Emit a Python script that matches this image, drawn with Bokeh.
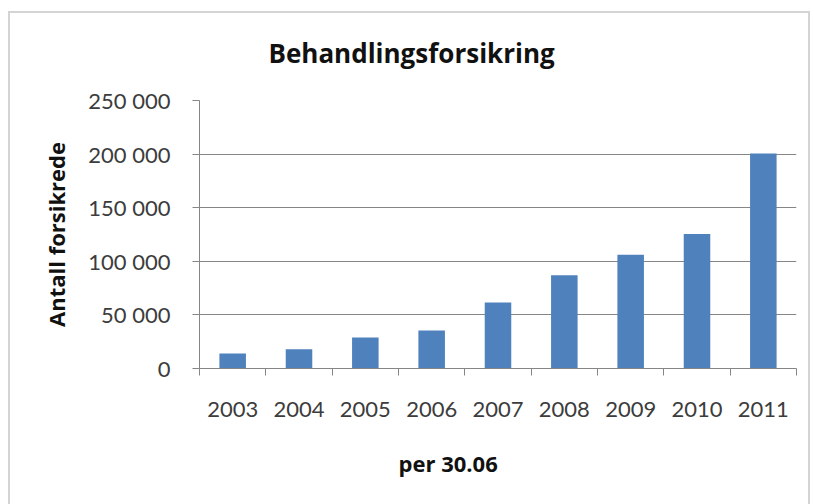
from bokeh.plotting import figure
from bokeh.models import Range1d, LinearAxis, FixedTicker, Title
from bokeh.embed import file_html
from bokeh.resources import INLINE

# ---- data ----
years = ["2003", "2004", "2005", "2006", "2007", "2008", "2009", "2010", "2011"]
insured = [14000, 18000, 29000, 35500, 61500, 87000, 106000, 125500, 200500]
y_ticks = [0, 50000, 100000, 150000, 200000, 250000]
y_tick_labels = ["0", "50 000", "100 000", "150 000", "200 000", "250 000"]
chart_title = "Behandlingsforsikring"
y_title = "Antall forsikrede"
x_title = "per 30.06"

FONT = "Lato"
BFONT = "Open Sans"
TXT = "#3c3c3c"
AX = "#868686"

n = len(years)
centers = [i + 0.5 for i in range(n)]
edges = list(range(n + 1))

p = figure(width=814, height=504,
           x_range=Range1d(0, n), y_range=Range1d(0, 250000),
           output_backend="svg", toolbar_location=None,
           x_axis_location=None,
           min_border_left=199, min_border_right=18,
           min_border_top=100, min_border_bottom=135)
# light grey chart border painted behind the (transparent) canvas margins
_g = "linear-gradient(#d4d4d4,#d4d4d4)"
p.styles = {
    "background": (f"{_g} 8px 11px / 2px 520px no-repeat, "
                   f"{_g} 8px 11px / 802px 2px no-repeat, "
                   f"{_g} 808px 11px / 2px 520px no-repeat, white"),
}
p.outline_line_color = None
p.background_fill_color = "white"
p.border_fill_color = None

p.vbar(x=centers, top=insured, width=0.4, fill_color="#4f81bd", line_color=None)

# y axis
ya = p.yaxis[0]
ya.ticker = FixedTicker(ticks=y_ticks)
ya.major_label_overrides = {t: l for t, l in zip(y_ticks, y_tick_labels)}
ya.axis_line_color = AX
ya.major_tick_line_color = AX
ya.major_tick_out = 7
ya.major_tick_in = 0
ya.minor_tick_line_color = None
ya.major_label_standoff = 22
ya.major_label_text_font = FONT
ya.major_label_text_font_size = "22px"
ya.major_label_text_color = TXT
ya.axis_label = y_title
ya.axis_label_text_font = BFONT
ya.axis_label_text_font_style = "bold"
ya.axis_label_text_font_size = "22px"
ya.axis_label_text_color = "#111111"
ya.axis_label_standoff = 14

p.xgrid.grid_line_color = None
p.ygrid.grid_line_color = AX
p.ygrid.ticker = FixedTicker(ticks=y_ticks)

# x axis: boundary ticks
edge_axis = LinearAxis(ticker=FixedTicker(ticks=edges),
                       axis_line_color=AX, major_tick_line_color=AX,
                       major_tick_out=7, major_tick_in=0,
                       minor_tick_line_color=None,
                       major_label_text_font_size="1px",
                       major_label_text_alpha=0, major_label_standoff=0)
p.add_layout(edge_axis, "below")

# x axis: year labels at category centres
year_axis = LinearAxis(ticker=FixedTicker(ticks=centers),
                       major_label_overrides={c: y for c, y in zip(centers, years)},
                       axis_line_color=None, major_tick_line_color=None,
                       minor_tick_line_color=None,
                       major_label_standoff=20,
                       major_label_text_font=FONT,
                       major_label_text_font_size="22px",
                       major_label_text_color=TXT)
p.add_layout(year_axis, "below")

# chart title and x title
p.title = Title(text=chart_title, align="left", offset=69, standoff=60,
                text_font=BFONT, text_font_style="bold",
                text_font_size="26px", text_color="#111111")
p.add_layout(Title(text=x_title, align="left", offset=199, standoff=53,
                   text_font=BFONT, text_font_style="bold",
                   text_font_size="22px", text_color="#111111"), "below")

open("out.html", "w").write(file_html(p, INLINE))
